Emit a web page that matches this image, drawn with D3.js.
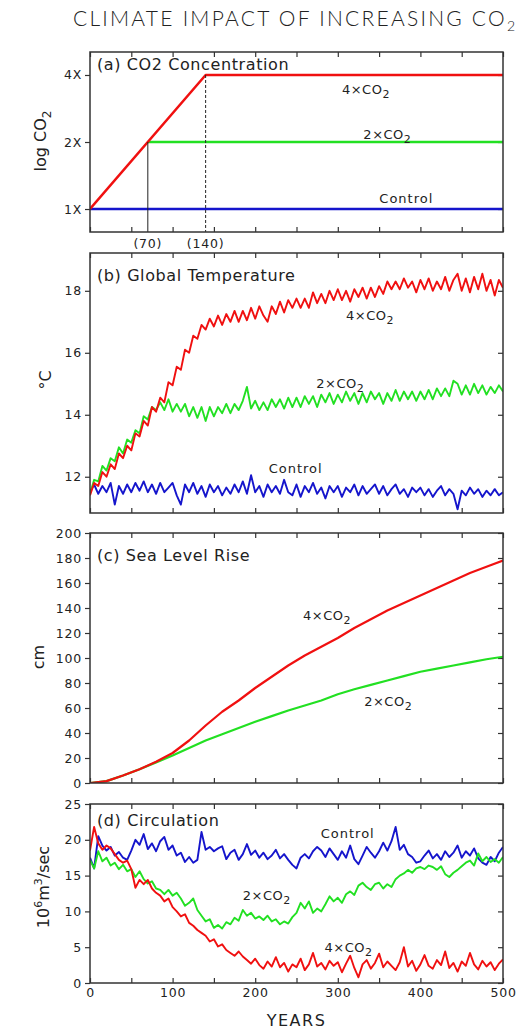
<!DOCTYPE html>
<html>
<head>
<meta charset="utf-8">
<script src="https://cdn.jsdelivr.net/npm/d3@7"></script>
<style>
body { margin: 0; background: #fff; }
text { font-family: "DejaVu Sans", sans-serif; fill: #222; }
</style>
</head>
<body>
<svg width="527" height="1032"></svg>
<script>
// ---- data ----
var years5 = d3.range(0, 501, 5);
var years20 = d3.range(0, 501, 20);

// (a) CO2 concentration, multiples of control
var co2Years4x = [0, 140, 500];
var co2Vals4x = [1, 4, 4];
var co2Years2x = [70, 500];
var co2Vals2x = [2, 2];
var co2YearsCtl = [0, 500];
var co2ValsCtl = [1, 1];

// (b) global temperature, deg C, every 5 years
var temp4x = [11.4,11.8,11.7,12.15,12.0,12.4,12.25,12.75,12.6,13.0,
  12.85,13.4,13.3,13.8,13.65,14.25,14.1,14.55,14.4,15.05,
  14.95,15.55,15.45,16.1,16.0,16.55,16.45,16.9,16.75,17.1,
  16.85,17.2,16.9,17.25,17.0,17.35,17.0,17.35,17.05,17.45,
  17.1,17.5,17.2,17.0,17.5,17.25,17.65,17.3,17.7,17.45,
  17.75,17.45,17.75,17.45,17.95,17.6,17.9,17.6,18.0,17.7,
  18.05,17.7,18.0,17.65,18.05,17.8,18.1,17.75,18.1,17.8,
  18.15,17.9,18.3,18.05,18.3,18.05,18.4,18.1,18.3,17.95,
  18.35,18.05,18.4,18.0,18.3,18.05,18.45,18.0,18.35,18.55,
  18.0,18.4,17.95,18.45,18.05,18.55,18.0,18.35,17.85,18.35,18.1];
var temp2x = [11.45,11.9,11.85,12.35,12.2,12.6,12.5,12.95,12.75,13.2,
  13.1,13.5,13.4,13.95,13.85,14.25,14.15,14.4,14.15,14.5,
  14.1,14.35,14.1,14.35,13.95,14.25,13.9,14.25,13.8,14.25,
  13.95,14.25,14.05,14.35,14.05,14.35,14.15,14.45,14.9,14.2,
  14.45,14.15,14.4,14.15,14.5,14.25,14.5,14.2,14.55,14.25,
  14.55,14.25,14.6,14.35,14.6,14.25,14.65,14.4,14.7,14.35,
  14.65,14.4,14.75,14.45,14.7,14.35,14.7,14.4,14.75,14.5,
  14.7,14.35,14.7,14.45,14.8,14.45,14.75,14.5,14.75,14.45,
  14.75,14.5,14.8,14.5,14.85,14.6,14.85,14.6,15.1,15.0,
  14.65,14.95,14.65,15.0,14.7,14.95,14.65,14.9,14.7,14.95,14.75];
var tempCtl = [11.5,11.75,11.45,11.7,11.5,11.8,11.1,11.7,11.45,11.75,
  11.5,11.8,11.55,11.85,11.5,11.75,11.45,11.8,11.5,11.65,
  11.8,11.4,11.1,11.75,11.5,11.8,11.45,11.7,11.35,11.75,
  11.5,11.7,11.4,11.65,11.45,11.75,11.5,11.85,11.45,12.05,
  11.5,11.7,11.35,11.75,11.5,11.7,11.45,11.9,11.5,11.4,
  11.75,11.35,11.7,11.5,11.8,11.45,11.65,11.3,11.7,11.5,
  11.7,11.35,11.65,11.5,11.75,11.4,11.7,11.45,11.6,11.75,
  11.45,11.7,11.4,11.6,11.75,11.45,11.6,11.35,11.65,11.5,
  11.65,11.4,11.6,11.35,11.55,11.7,11.4,11.6,11.45,10.95,
  11.55,11.4,11.65,11.45,11.6,11.35,11.55,11.4,11.6,11.4,11.5];

// (c) sea level rise, cm, every 20 years
var sea4x = [0,1.5,6,11,17,24,34,46,57,66,76,85,94,102,109,116,124,131,138,144,150,156,162,168,173,178];
var sea2x = [0,1.5,6,11,16.5,22,28,34,39,44,49,53.5,58,62,66,71,75,78.5,82,85.5,89,91.5,94,96.5,99,101];

// (d) circulation, 10^6 m3/s, every 5 years
var circ4x = [18.5,21.8,19.5,18.6,19.2,18.8,18.0,17.2,16.8,17.1,15.9,13.3,14.4,13.8,14.4,13.2,12.6,12.2,11.4,11.8,
  10.6,10.0,9.3,9.6,8.4,8.0,7.4,7.0,6.6,5.8,6.1,5.1,5.4,4.6,4.2,3.8,4.4,3.7,3.2,2.7,
  3.4,2.5,2.0,3.0,2.3,3.6,2.2,2.8,1.6,2.6,2.2,3.4,1.8,2.6,4.2,2.3,2.8,1.9,3.1,2.4,
  2.9,1.5,2.7,3.8,2.1,0.8,2.6,3.2,2.0,2.8,4.1,2.2,3.0,2.4,1.8,2.9,5.0,2.3,3.1,1.7,
  2.6,3.9,2.4,2.0,3.2,2.5,4.4,2.1,2.8,1.6,3.0,2.4,4.2,2.6,1.9,3.1,2.3,2.9,1.8,2.7,3.3];
var circ2x = [17.2,16.0,18.4,17.0,17.5,16.4,16.8,15.9,16.5,15.6,15.9,14.8,15.6,14.5,13.9,14.2,13.2,13.0,12.4,13.0,
  12.2,12.6,11.8,10.8,11.2,11.8,10.2,9.4,8.6,8.9,7.7,8.1,7.6,8.5,8.2,9.1,8.7,10.2,9.4,9.8,
  9.0,9.3,8.8,9.4,8.6,8.9,8.2,8.6,8.3,9.2,9.8,11.2,10.4,11.4,9.8,10.4,10.0,11.0,12.1,11.4,
  11.9,11.2,12.4,12.8,12.3,13.6,14.0,13.4,13.0,13.8,14.0,13.2,13.8,13.4,14.5,15.0,15.3,15.8,15.4,16.0,
  16.2,15.9,16.4,16.2,15.8,16.3,15.2,14.8,15.4,15.8,16.3,16.8,17.1,16.4,18.1,17.0,17.6,16.9,17.3,16.8,17.6];
var circCtl = [17.5,16.0,20.5,19.2,18.5,19.0,17.8,18.3,17.5,17.2,18.5,20.0,19.3,20.8,18.7,19.5,18.4,19.8,20.4,18.6,
  19.2,17.8,18.2,16.9,17.6,16.8,17.2,21.1,18.6,19.0,18.4,18.8,19.1,17.3,18.2,18.6,17.2,18.0,19.4,17.9,
  18.5,17.5,18.2,17.3,17.8,18.6,17.4,18.0,17.2,16.5,16.0,17.5,18.0,17.4,18.4,19.0,18.5,17.6,18.8,18.0,
  17.2,18.4,17.5,19.2,17.3,16.6,17.8,19.0,18.2,17.5,18.4,19.6,18.5,19.8,21.8,18.6,19.3,18.0,17.6,16.8,
  17.0,17.8,18.5,17.4,18.0,17.2,18.4,17.6,18.2,19.2,17.5,18.4,17.8,18.8,17.4,16.8,16.5,17.6,17.0,18.2,19.0];

var xTicks = d3.range(0, 501, 50);
var xLabels = [0, 100, 200, 300, 400, 500];
var co2Ticks = [1, 2, 4];
var tempTicks = [12, 14, 16, 18];
var seaTicks = d3.range(0, 201, 20);
var circTicks = [0, 5, 10, 15, 20, 25];

var RED = "#f01010", GREEN = "#22e022", BLUE = "#1515cc";

// ---- layout ----
var svg = d3.select("svg");
var left = 90, right = 503;
var x = d3.scaleLinear().domain([0, 500]).range([left, right]);

var panels = [
  { id: "a", top: 52, bottom: 232, title: "(a) CO2 Concentration", titleY: 70,
    y: d3.scaleLog().base(2).domain([Math.pow(2, -0.343), Math.pow(2, 2.343)]).range([232, 52]),
    ticks: co2Ticks, fmt: function(d) { return d + "X"; } },
  { id: "b", top: 253, bottom: 513, title: "(b) Global Temperature", titleY: 281,
    y: d3.scaleLinear().domain([10.83, 19.22]).range([513, 253]),
    ticks: tempTicks, fmt: d3.format("d") },
  { id: "c", top: 533, bottom: 783, title: "(c) Sea Level Rise", titleY: 561,
    y: d3.scaleLinear().domain([0, 200]).range([783, 533]),
    ticks: seaTicks, fmt: d3.format("d") },
  { id: "d", top: 804, bottom: 983, title: "(d) Circulation", titleY: 826,
    y: d3.scaleLinear().domain([0, 25]).range([983, 804]),
    ticks: circTicks, fmt: d3.format("d") }
];

var defs = svg.append("defs");

panels.forEach(function(p) {
  defs.append("clipPath").attr("id", "clip-" + p.id)
    .append("rect").attr("x", left).attr("y", p.top)
    .attr("width", right - left).attr("height", p.bottom - p.top);

  // left axis, ticks outward with labels
  var gl = svg.append("g").attr("transform", "translate(" + left + ",0)")
    .call(d3.axisLeft(p.y).tickValues(p.ticks).tickFormat(p.fmt)
      .tickSize(5).tickSizeOuter(0).tickPadding(3));
  gl.selectAll("text").style("font-size", "12.5px").style("letter-spacing", "0.8px").attr("fill", "#222");

  // right axis, ticks inward
  svg.append("g").attr("transform", "translate(" + right + ",0)")
    .call(d3.axisRight(p.y).tickValues(p.ticks).tickFormat("")
      .tickSize(-5).tickSizeOuter(0));

  // top and bottom, ticks inward
  svg.append("g").attr("transform", "translate(0," + p.top + ")")
    .call(d3.axisTop(x).tickValues(xTicks).tickFormat("").tickSize(-5).tickSizeOuter(0));

  var gb = svg.append("g").attr("transform", "translate(0," + p.bottom + ")")
    .call(d3.axisBottom(x).tickValues(xTicks)
      .tickFormat(p.id === "d" ? function(d) { return xLabels.indexOf(d) >= 0 ? d : ""; } : "")
      .tickSize(-5).tickSizeOuter(0).tickPadding(5));
  gb.selectAll("text").style("font-size", "12.5px").style("letter-spacing", "0.8px").attr("fill", "#222");

  svg.selectAll(".domain").remove();

  p.g = svg.append("g").attr("clip-path", "url(#clip-" + p.id + ")");
});

svg.selectAll(".tick line").attr("stroke", "#333").attr("stroke-width", 1.2);

function drawLine(p, xs, ys, color, width) {
  var line = d3.line().x(function(d) { return x(d[0]); }).y(function(d) { return p.y(d[1]); });
  p.g.append("path")
    .datum(d3.zip(xs, ys))
    .attr("d", line)
    .attr("fill", "none")
    .attr("stroke", color)
    .attr("stroke-width", width)
    .attr("stroke-linejoin", "round");
}

// (a)
var pa = panels[0];
svg.append("line").attr("x1", x(70)).attr("x2", x(70))
  .attr("y1", pa.y(2)).attr("y2", pa.bottom).attr("stroke", "#222").attr("stroke-width", 1);
svg.append("line").attr("x1", x(140)).attr("x2", x(140))
  .attr("y1", pa.y(4)).attr("y2", pa.bottom).attr("stroke", "#222").attr("stroke-width", 1)
  .attr("stroke-dasharray", "3,2");
drawLine(pa, co2YearsCtl, co2ValsCtl, BLUE, 2.5);
drawLine(pa, co2Years2x, co2Vals2x, GREEN, 2.5);
drawLine(pa, co2Years4x, co2Vals4x, RED, 2.5);
[70, 140].forEach(function(yr) {
  svg.append("text").attr("x", x(yr)).attr("y", pa.bottom + 16)
    .attr("text-anchor", "middle").style("font-size", "12.5px").style("letter-spacing", "0.8px")
    .text("(" + yr + ")");
});

// (b)
var pb = panels[1];
drawLine(pb, years5, tempCtl, BLUE, 1.9);
drawLine(pb, years5, temp2x, GREEN, 1.9);
drawLine(pb, years5, temp4x, RED, 1.9);

// (c)
var pc = panels[2];
drawLine(pc, years20, sea2x, GREEN, 2.2);
drawLine(pc, years20, sea4x, RED, 2.2);

// (d)
var pd = panels[3];
drawLine(pd, years5, circCtl, BLUE, 1.9);
drawLine(pd, years5, circ2x, GREEN, 1.9);
drawLine(pd, years5, circ4x, RED, 1.9);

// frames and panel titles
panels.forEach(function(p) {
  svg.append("rect").attr("x", left).attr("y", p.top)
    .attr("width", right - left).attr("height", p.bottom - p.top)
    .attr("fill", "none").attr("stroke", "#333").attr("stroke-width", 1.5);
  svg.append("text").attr("x", left + 7).attr("y", p.titleY)
    .style("font-size", "16px").style("letter-spacing", "0.6px").text(p.title);
});

// series labels
function co2Label(p, year, val, prefix) {
  var t = svg.append("text").attr("x", x(year)).attr("y", p.y(val)).attr("dy", "0.35em")
    .attr("text-anchor", "middle").style("font-size", "13px").style("letter-spacing", "0.5px");
  t.append("tspan").text(prefix + "\u00d7CO");
  t.append("tspan").attr("dy", "4").style("font-size", "11px").text("2");
}
function plainLabel(p, year, val, txt) {
  svg.append("text").attr("x", x(year)).attr("y", p.y(val)).attr("dy", "0.35em")
    .attr("text-anchor", "middle").style("font-size", "13px").style("letter-spacing", "1px").text(txt);
}
co2Label(pa, 334, 3.46, "4");
co2Label(pa, 360, 2.17, "2");
plainLabel(pa, 383, 1.11, "Control");
co2Label(pb, 339, 17.22, "4");
co2Label(pb, 303, 15.02, "2");
plainLabel(pb, 249, 12.28, "Control");
co2Label(pc, 287, 134.4, "4");
co2Label(pc, 361, 65.6, "2");
plainLabel(pd, 312, 20.95, "Control");
co2Label(pd, 214, 12.29, "2");
co2Label(pd, 313, 5.03, "4");

// axis titles
function yTitle(cx, cy) {
  return svg.append("text").attr("transform", "translate(" + cx + "," + cy + ") rotate(-90)")
    .attr("dy", "0.35em").attr("text-anchor", "middle").style("font-size", "16px");
}
var t1 = yTitle(40, 141);
t1.append("tspan").text("log CO");
t1.append("tspan").attr("dy", "5").style("font-size", "12px").text("2");
yTitle(45, 380).text("\u00b0C");
yTitle(38, 657).text("cm");
var t4 = yTitle(43, 887);
t4.append("tspan").text("10");
t4.append("tspan").attr("dy", "-7").style("font-size", "11px").text("6");
t4.append("tspan").attr("dy", "7").text("m");
t4.append("tspan").attr("dy", "-7").style("font-size", "11px").text("3");
t4.append("tspan").attr("dy", "7").text("/sec");

svg.append("text").attr("x", (left + right) / 2).attr("y", 1026)
  .attr("text-anchor", "middle").style("font-size", "16px").style("letter-spacing", "1.5px")
  .text("YEARS");

// title
var title = svg.append("text").attr("x", 73).attr("y", 26)
  .attr("textLength", 442).attr("lengthAdjust", "spacing")
  .style("font-family", "Lato, 'DejaVu Sans', sans-serif")
  .style("font-size", "21px").style("font-weight", "300");
title.append("tspan").text("CLIMATE IMPACT OF INCREASING CO");
title.append("tspan").attr("dy", "5").style("font-size", "14px").text("2");
</script>
</body>
</html>
